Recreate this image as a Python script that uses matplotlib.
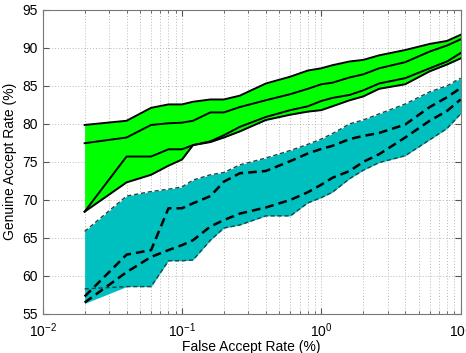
import matplotlib
matplotlib.use("Agg")
import matplotlib.pyplot as plt
import numpy as np

plt.rcParams['font.family'] = ['Liberation Sans', 'DejaVu Sans']
plt.rcParams['mathtext.fontset'] = 'custom'
plt.rcParams['mathtext.rm'] = 'Liberation Sans'
plt.rcParams['mathtext.it'] = 'Liberation Sans:italic'

# False accept rate (%) sample points
far = [0.02, 0.04, 0.06, 0.08, 0.1, 0.12, 0.16, 0.2, 0.26, 0.4, 0.6, 0.8,
       1.0, 1.2, 1.6, 2.0, 2.6, 4.0, 6.0, 8.0, 10.0]

# Green band (solid lines)
green_upper = [79.85, 80.4, 82.1, 82.55, 82.55, 82.9, 83.2, 83.2, 83.7, 85.3, 86.2, 87.0,
               87.3, 87.7, 88.2, 88.4, 89.0, 89.7, 90.5, 90.9, 91.7]
green_mid1 = [77.45, 78.2, 79.85, 80.07, 80.15, 80.4, 81.5, 81.5, 82.2, 83.1, 83.9, 84.6,
              85.2, 85.4, 86.1, 86.5, 87.3, 88.1, 89.5, 90.3, 91.1]
green_mid2 = [68.45, 75.7, 75.7, 76.65, 76.65, 77.2, 77.7, 78.5, 79.6, 80.9, 81.8, 82.3,
              83.0, 83.4, 83.8, 84.4, 85.3, 86.0, 87.3, 88.2, 89.3]
green_lower = [68.45, 72.3, 73.3, 74.5, 75.3, 77.2, 77.6, 78.2, 79.0, 80.5, 81.2, 81.6,
               81.8, 82.3, 83.1, 83.6, 84.6, 85.2, 86.9, 87.8, 88.6]

# Cyan band (dashed lines)
cyan_upper = [65.85, 70.5, 71.1, 71.4, 71.7, 72.6, 73.3, 73.6, 74.6, 75.5, 76.5, 77.3,
              78.0, 78.7, 80.0, 80.5, 81.3, 82.6, 84.2, 85.0, 86.0]
cyan_mid1 = [57.3, 62.8, 63.4, 68.9, 68.9, 69.55, 70.5, 72.4, 73.5, 73.8, 75.1, 76.1,
             76.7, 77.1, 78.0, 78.4, 78.8, 79.9, 82.2, 83.5, 84.7]
cyan_mid2 = [56.5, 60.5, 62.5, 63.4, 64.05, 64.7, 66.5, 67.35, 68.2, 69.0, 70.0, 71.0,
             72.0, 72.9, 73.8, 75.0, 76.0, 78.2, 80.4, 81.7, 83.2]
cyan_lower = [58.3, 58.6, 58.6, 62.0, 62.0, 62.1, 64.7, 66.3, 66.7, 67.9, 67.9, 69.6,
              70.3, 71.0, 72.8, 73.9, 74.9, 75.8, 77.9, 79.4, 81.3]
cyan_fill_low = [56.4] + cyan_lower[1:]

fig = plt.figure(figsize=(4.66, 3.53), dpi=100)
ax = fig.add_axes([0.0916, 0.1105, 0.8968, 0.862])

ax.fill_between(far, green_lower, green_upper, color='#00ff00', lw=0, zorder=2)
for s in (green_upper, green_mid1, green_mid2, green_lower):
    ax.plot(far, s, color='black', lw=1.4, zorder=3)

ax.fill_between(far, cyan_fill_low, cyan_upper, color='#00bfbf', lw=0, zorder=2)
for s in (cyan_upper, cyan_lower):
    ax.plot(far, s, color='#1f4545', lw=1.0, ls=(0, (3, 2)), zorder=3)
for s in (cyan_mid1, cyan_mid2):
    ax.plot(far, s, color='black', lw=1.8, ls=(0, (3.5, 2)), zorder=3)

ax.set_xscale('log')
ax.set_xlim(1e-2, 1e1)
ax.set_ylim(55, 95)
ax.set_yticks(np.arange(55, 96, 5))
ax.set_axisbelow(True)
ax.grid(True, which='major', color='#b8b8b8', ls=(0, (1, 2)), lw=0.7)
ax.grid(True, which='minor', axis='x', color='#b8b8b8', ls=(0, (1, 2)), lw=0.7)
ax.tick_params(which='both', direction='in', top=True, right=True, labelsize=10,
               colors='#555555', labelcolor='black')
ax.tick_params(which='major', length=4)
ax.tick_params(which='minor', length=2)
ax.tick_params(axis='x', which='major', pad=5)
for sp in ax.spines.values():
    sp.set_color('#777777')
    sp.set_linewidth(0.8)

ax.set_xlabel('False Accept Rate (%)', fontsize=10, labelpad=0)
ax.set_ylabel('Genuine Accept Rate (%)', fontsize=10, labelpad=4)

fig.savefig('out.png', dpi=100)
